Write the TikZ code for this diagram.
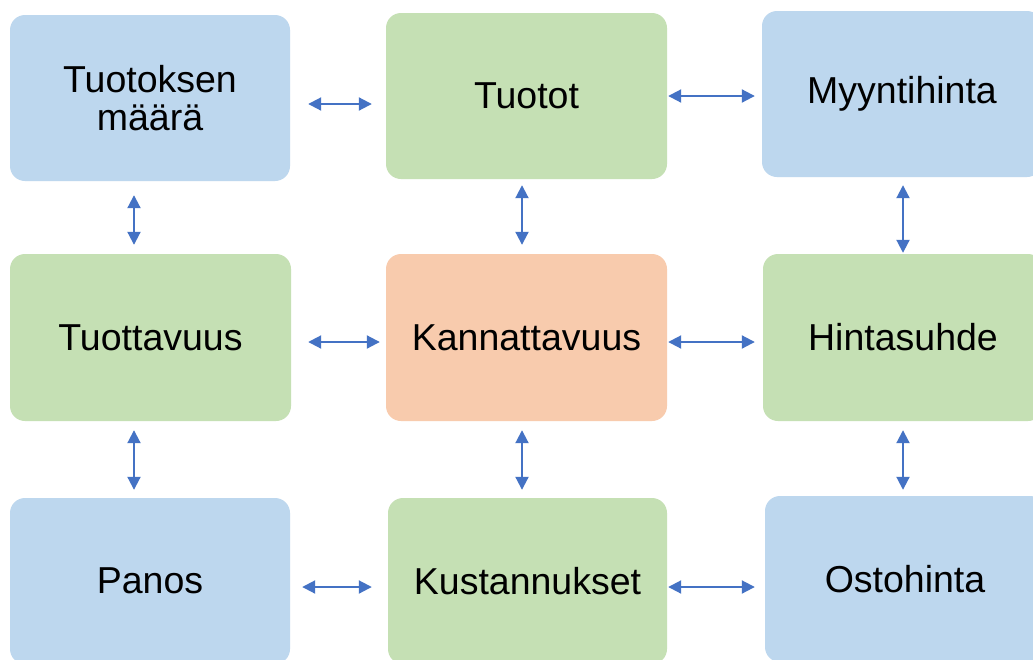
\documentclass[tikz,border=0pt]{standalone}
\usepackage{fontspec}
\setmainfont{Liberation Sans}
\usetikzlibrary{arrows.meta}
\definecolor{bluebox}{HTML}{BDD7EE}
\definecolor{greenbox}{HTML}{C5E0B4}
\definecolor{orangebox}{HTML}{F8CBAD}
\definecolor{arrcol}{HTML}{4472C4}
\tikzset{
  box/.style={rectangle, rounded corners=15pt, minimum width=280pt, minimum height=166pt,
    inner sep=0pt, align=center, font=\fontsize{37.5}{38}\selectfont, text=black},
  bluebx/.style={box, fill=bluebox},
  greenbx/.style={box, fill=greenbox},
  orangebx/.style={box, fill=orangebox},
  arr/.style={draw=arrcol, line width=2pt, {Triangle[length=13pt,width=13pt]}-{Triangle[length=13pt,width=13pt]}}
}
\begin{document}
\begin{tikzpicture}[x=1pt,y=-1pt]
\useasboundingbox (0,0) rectangle (1033,659);
\clip (0,0) rectangle (1033,659);
\fill[white] (0,0) rectangle (1033,659);
% row 1
\node[bluebx]   (tm)  at (150,98)    {Tuotoksen\\määrä};
\node[greenbx, minimum width=281pt]  (tt)  at (526.5,96)  {Tuotot};
\node[bluebx]   (myy) at (902,94)    {Myyntihinta};
% row 2
\node[greenbx, minimum width=281pt, minimum height=167pt]  (tv)  at (150.5,337.5) {Tuottavuus};
\node[orangebx, minimum width=281pt, minimum height=167pt] (kv)  at (526.5,337.5) {Kannattavuus};
\node[greenbx, minimum height=167pt]  (hs)  at (903,337.5)   {Hintasuhde};
% row 3
\node[bluebx]   (pa)  at (150,581)   {Panos};
\node[greenbx, minimum width=279pt]  (ku)  at (527.5,581)  {Kustannukset};
\node[bluebx]   (os)  at (905,579)   {Ostohinta};
% horizontal arrows
\draw[arr, shorten <=18pt, shorten >=14pt] (tm.east |- 0,104) -- (tt.west |- 0,104);
\draw[arr, shorten <=1pt, shorten >=7pt] (tt.east |- 0,96) -- (myy.west |- 0,96);
\draw[arr, shorten <=17pt, shorten >=6pt] (tv.east |- 0,342) -- (kv.west |- 0,342);
\draw[arr, shorten <=1pt, shorten >=8pt] (kv.east |- 0,342) -- (hs.west |- 0,342);
\draw[arr, shorten <=12pt, shorten >=16pt] (pa.east |- 0,587) -- (ku.west |- 0,587);
\draw[arr, shorten <=1pt, shorten >=10pt] (ku.east |- 0,587) -- (os.west |- 0,587);
% vertical arrows
\draw[arr, shorten <=14pt, shorten >=9pt] (tm.south -| 134,0) -- (tv.north -| 134,0);
\draw[arr, shorten <=9pt, shorten >=8pt] (tv.south -| 134,0) -- (pa.north -| 134,0);
\draw[arr, shorten <=6pt, shorten >=9pt] (tt.south -| 522,0) -- (kv.north -| 522,0);
\draw[arr, shorten <=9pt, shorten >=8pt] (kv.south -| 522,0) -- (ku.north -| 522,0);
\draw[arr, shorten <=8pt, shorten >=1pt] (myy.south -| 903,0) -- (hs.north -| 903,0);
\draw[arr, shorten <=9pt, shorten >=6pt] (hs.south -| 903,0) -- (os.north -| 903,0);
\end{tikzpicture}
\end{document}
